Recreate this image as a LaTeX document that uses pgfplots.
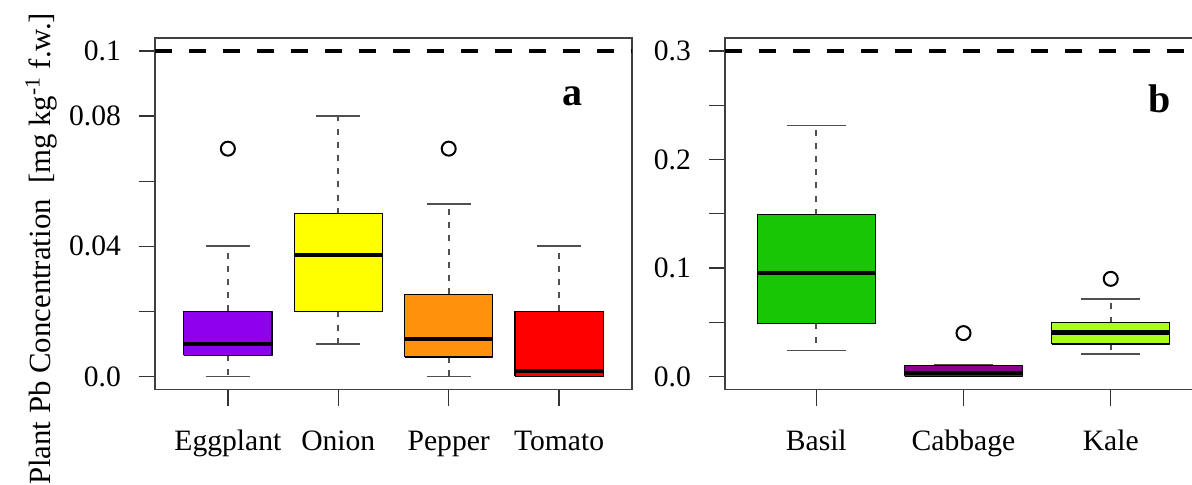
\documentclass[border=0pt]{standalone}
\usepackage{fontspec}
\setmainfont{Liberation Serif}
\usepackage{pgfplots}
\pgfplotsset{compat=1.18}
\definecolor{cegg}{RGB}{142,0,236}
\definecolor{conion}{RGB}{255,255,0}
\definecolor{cpepper}{RGB}{255,146,10}
\definecolor{ctomato}{RGB}{255,0,0}
\definecolor{cbasil}{RGB}{24,198,6}
\definecolor{ccabbage}{RGB}{140,0,142}
\definecolor{ckale}{RGB}{168,255,30}
\definecolor{wgray}{RGB}{80,80,80}
\pgfplotsset{
  rframe/.style={
    scale only axis, width=238.5pt, height=175.75pt, anchor=south west,
    axis line style={black!75, line width=0.7pt},
    tick align=outside, major tick length=8pt,
    tick pos=left,
    tick style={black!80, line width=0.7pt},
    tick label style={font=\fontsize{14.8}{17}\selectfont},
    yticklabel style={xshift=-5.5pt},
    xticklabel style={anchor=base, yshift=-22.5pt},
  },
  stem/.style={wgray, line width=1pt, dash pattern=on 3pt off 3.6pt, forget plot},
  cap/.style={wgray, line width=0.9pt, forget plot},
  outl/.style={only marks, mark=o, mark size=3.5pt, mark options={solid, draw=black, line width=1pt}, forget plot},
  refline/.style={black, line width=2.2pt, dash pattern=on 8.5pt off 8.5pt, forget plot},
}
% #1 position, #2 lower whisker, #3 lower quartile, #4 median, #5 upper quartile, #6 upper whisker, #7 colour
\newcommand{\rbox}[7]{%
  \pgfmathsetmacro{\xl}{#1-0.4}\pgfmathsetmacro{\xr}{#1+0.4}%
  \pgfmathsetmacro{\cl}{#1-0.2}\pgfmathsetmacro{\cr}{#1+0.2}%
  \addplot[stem] coordinates {(#1,#3) (#1,#2)};
  \addplot[stem] coordinates {(#1,#5) (#1,#6)};
  \addplot[cap] coordinates {(\cl,#2) (\cr,#2)};
  \addplot[cap] coordinates {(\cl,#6) (\cr,#6)};
  \addplot[fill=#7, draw=black, line width=0.6pt, line join=round, forget plot]
    coordinates {(\xl,#3) (\xr,#3) (\xr,#5) (\xl,#5) (\xl,#3)};
  \addplot[black, line width=2.1pt, forget plot] coordinates {(\xl,#4) (\xr,#4)};
}
\begin{document}
\begin{tikzpicture}
\useasboundingbox (0,0) rectangle (596pt,242pt);
\clip (0,0) rectangle (596pt,242pt);
% ---------------- panel a ----------------
\begin{axis}[rframe, at={(77.5pt,47.25pt)},
  xmin=0.34, xmax=4.66, ymin=-0.004, ymax=0.104,
  xtick={1,2,3,4}, xticklabels={Eggplant,Onion,Pepper,Tomato},
  ytick={0,0.02,0.04,0.06,0.08,0.1}, yticklabels={0.0,,0.04,,0.08,0.1},
  ylabel={Plant Pb Concentration\ \ [mg kg\textsuperscript{-1} f.w.]},
  ylabel style={at={(axis description cs:-0.220,0.400)}, anchor=base,
    font=\fontsize{15.4}{18}\selectfont},
]
\addplot[refline] coordinates {(0.34,0.1) (4.66,0.1)};
\rbox{1}{0}{0.0065}{0.010}{0.020}{0.040}{cegg}
\rbox{2}{0.010}{0.020}{0.0374}{0.050}{0.080}{conion}
\rbox{3}{0}{0.006}{0.0115}{0.0253}{0.053}{cpepper}
\rbox{4}{0}{0}{0.0018}{0.020}{0.040}{ctomato}
\addplot[outl] coordinates {(1,0.070) (3,0.070)};
\node[anchor=base, font=\fontsize{20}{24}\selectfont\bfseries]
  at (axis description cs:0.876,0.808) {a};
\end{axis}
% ---------------- panel b ----------------
\begin{axis}[rframe, at={(362.5pt,47.25pt)},
  xmin=0.38, xmax=3.62, ymin=-0.012, ymax=0.312,
  xtick={1,2,3}, xticklabels={Basil,Cabbage,Kale},
  ytick={0,0.05,0.1,0.15,0.2,0.25,0.3}, yticklabels={0.0,,0.1,,0.2,,0.3},
]
\addplot[refline] coordinates {(0.38,0.3) (3.62,0.3)};
\rbox{1}{0.024}{0.049}{0.0955}{0.149}{0.2314}{cbasil}
\rbox{2}{0}{0}{0.003}{0.010}{0.011}{ccabbage}
\rbox{3}{0.0206}{0.030}{0.0405}{0.0497}{0.0712}{ckale}
\addplot[outl] coordinates {(2,0.040) (3,0.090)};
\node[anchor=base, font=\fontsize{20}{24}\selectfont\bfseries]
  at (axis description cs:0.912,0.787) {b};
\end{axis}
\end{tikzpicture}
\end{document}
